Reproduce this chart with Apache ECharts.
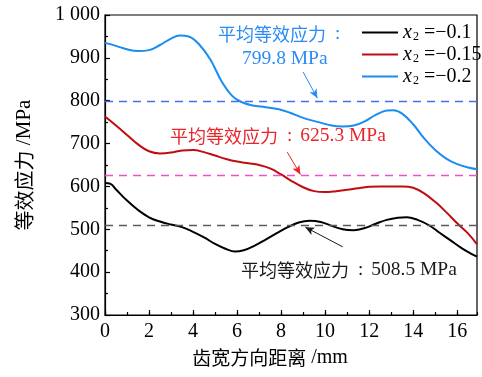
<!DOCTYPE html>
<html>
<head>
<meta charset="utf-8">
<script src="https://cdn.jsdelivr.net/npm/echarts@6/dist/echarts.min.js"></script>
<style>
  html, body { margin: 0; padding: 0; background: #fff; }
  #chart { width: 482px; height: 377px; }
</style>
</head>
<body>
<div id="chart"></div>
<script>
// Equivalent stress along the tooth width for three x2 values
const seriesNames = ['−0.1', '−0.15', '−0.2'];
const xTicks = [0, 2, 4, 6, 8, 10, 12, 14, 16];
const yTicks = [300, 400, 500, 600, 700, 800, 900, 1000];

const stressX01 = [
  [0, 608], [0.25, 606], [0.5, 593], [1.0, 567], [1.5, 545], [2.0, 528], [2.5, 518], [3.0, 511],
  [3.5, 505], [4.0, 494], [4.5, 481], [5.0, 466], [5.5, 454], [5.9, 448], [6.3, 451],
  [6.8, 462], [7.3, 476], [7.8, 491], [8.3, 505], [8.8, 516], [9.3, 520], [9.8, 517],
  [10.3, 508], [10.8, 500], [11.3, 498], [11.8, 503], [12.3, 513], [12.8, 522],
  [13.3, 527], [13.7, 528], [14.2, 522], [14.7, 510], [15.2, 492], [15.7, 474],
  [16.2, 456], [16.6, 444], [16.9, 436]
];
const stressX015 = [
  [0, 763], [0.5, 742], [1.0, 720], [1.5, 698], [2.0, 682], [2.5, 677], [3.0, 679],
  [3.5, 684], [4.0, 685], [4.5, 680], [5.0, 672], [5.5, 664], [6.0, 658], [6.5, 654],
  [7.0, 650], [7.5, 642], [8.0, 628], [8.5, 612], [9.0, 598], [9.5, 589], [10.0, 587],
  [10.5, 589], [11.0, 592], [11.5, 596], [12.0, 599], [12.5, 600], [13.0, 600],
  [13.5, 600], [14.0, 597], [14.5, 584], [15.0, 564], [15.5, 540], [16.0, 514],
  [16.5, 490], [16.9, 465]
];
const stressX02 = [
  [0, 935], [0.5, 928], [1.0, 920], [1.5, 916], [2.0, 918], [2.5, 930], [3.0, 945],
  [3.4, 952], [3.8, 950], [4.3, 930], [4.8, 895], [5.3, 845], [5.8, 810], [6.2, 797],
  [6.7, 789], [7.3, 785], [7.9, 780], [8.4, 772], [9.0, 760], [9.7, 750], [10.3, 742],
  [10.8, 740], [11.3, 742], [11.8, 752], [12.3, 767], [12.8, 777], [13.1, 778],
  [13.5, 770], [14.0, 745], [14.5, 712], [15.0, 685], [15.5, 665], [16.0, 652],
  [16.5, 644], [16.9, 640]
];

// Average equivalent stress for each case (MPa)
const averages = [508.5, 625.3, 799.8];

const serif = '"Liberation Serif", "Noto Sans CJK SC", serif';
const cjk = '"Noto Sans CJK SC", sans-serif';
const lineColors = ['#000000', '#c00d12', '#1a8df0'];
const avgColors = ['#5a5a5a', '#f050c8', '#4c6cf0'];
const noteColors = ['#1a1a1a', '#e8262a', '#2a8cf6'];
const noteHead = '平均等效应力';

// Arrow segments pointing from each note to its average line, in data units
const arrows = [
  [[10.8, 459], [9.1, 505]],
  [[8.28, 680], [8.88, 628]],
  [[9.0, 867], [9.65, 806]]
];

const chart = echarts.init(document.getElementById('chart'), null, { renderer: 'canvas' });

function avgMarkLine(i) {
  return {
    silent: true,
    animation: false,
    symbol: ['none', 'none'],
    label: { show: false },
    emphasis: { disabled: true },
    data: [
      { yAxis: averages[i],
        lineStyle: { type: [8, 6], color: avgColors[i], width: 1.3 } },
      [
        { coord: arrows[i][0], symbol: 'none' },
        { coord: arrows[i][1], symbol: 'arrow', symbolSize: [6, 9],
          lineStyle: { type: 'solid', color: noteColors[i], width: 1 },
          itemStyle: { color: noteColors[i] } }
      ]
    ]
  };
}

const datasets = [stressX01, stressX015, stressX02];
const series = datasets.map((d, i) => ({
  name: seriesNames[i],
  type: 'line',
  data: d,
  smooth: 0.4,
  symbol: 'none',
  lineStyle: { color: lineColors[i], width: 2 },
  itemStyle: { color: lineColors[i] },
  z: 3,
  markLine: avgMarkLine(i)
}));

// Rich-text note: CJK heading, spaced colon, value in MPa
function noteRich(color) {
  return {
    c: { fontFamily: cjk, fontSize: 18, fill: color, color: color },
    p: { fontFamily: serif, fontSize: 19, fill: color, color: color, padding: [0, 8, 0, 9] },
    n: { fontFamily: serif, fontSize: 19.5, fill: color, color: color }
  };
}

const option = {
  animation: false,
  backgroundColor: '#fff',
  grid: {
    left: 105, right: 5, top: 15, bottom: 62,
    show: true, borderColor: '#000', borderWidth: 1.2
  },
  legend: {
    orient: 'vertical',
    left: 357, top: 17,
    icon: 'rect',
    itemWidth: 36, itemHeight: 2.2, itemGap: 1,
    data: seriesNames,
    formatter: (name) => '{i|x}{s|2}{t| =' + name + '}',
    textStyle: {
      color: '#000',
      rich: {
        i: { fontFamily: serif, fontStyle: 'italic', fontSize: 20, color: '#000', lineHeight: 20 },
        s: { fontFamily: serif, fontSize: 12, color: '#000', padding: [9, 0, 0, 1], lineHeight: 20 },
        t: { fontFamily: serif, fontSize: 20, color: '#000', lineHeight: 20 }
      }
    }
  },
  xAxis: [
    {
      type: 'value', min: 0, max: 16.9, interval: 2,
      name: '{c|齿宽方向距离}{t| /mm}',
      nameLocation: 'middle', nameGap: 33,
      nameTextStyle: {
        color: '#000', padding: [0, 42, 0, 0],
        rich: {
          c: { fontFamily: cjk, fontSize: 19, color: '#000' },
          t: { fontFamily: serif, fontSize: 20, color: '#000' }
        }
      },
      axisLine: { show: true, lineStyle: { color: '#000', width: 1.2 } },
      axisTick: { show: true, inside: true, length: 5, lineStyle: { color: '#000', width: 1.2 } },
      axisLabel: {
        fontFamily: serif, fontSize: 20, color: '#000', margin: 7,
        showMaxLabel: false,
        formatter: (v) => (xTicks.indexOf(v) >= 0 ? String(v) : '')
      },
      splitLine: { show: false }
    },
    {
      // minor ticks at every millimetre
      type: 'value', min: 0, max: 16.9, interval: 1, position: 'bottom',
      axisLine: { show: false },
      axisTick: { show: true, inside: true, length: 3, lineStyle: { color: '#000', width: 1.2 } },
      axisLabel: { show: false },
      splitLine: { show: false }
    }
  ],
  yAxis: {
    type: 'value', min: 300, max: 1000, interval: 100,
    name: '{c|等效应力}{t| /MPa}',
    nameLocation: 'middle', nameGap: 70, nameRotate: 90,
    nameTextStyle: {
      color: '#000',
      rich: {
        c: { fontFamily: cjk, fontSize: 20, color: '#000' },
        t: { fontFamily: serif, fontSize: 21, color: '#000' }
      }
    },
    axisLine: { show: true, lineStyle: { color: '#000', width: 1.2 } },
    axisTick: { show: true, inside: true, length: 5, lineStyle: { color: '#000', width: 1.2 } },
    minorTick: { show: true, splitNumber: 2, length: 3, lineStyle: { color: '#000', width: 1.2 } },
    axisLabel: {
      fontFamily: serif, fontSize: 20, color: '#000', margin: 5,
      formatter: (v) => (yTicks.indexOf(v) >= 0 ? (v >= 1000 ? '1 000' : String(v)) : '')
    },
    splitLine: { show: false }
  },
  graphic: [
    { type: 'text', left: 218, top: 25, z: 10,
      style: { text: '{c|' + noteHead + '}{p|:}', rich: noteRich(noteColors[2]) } },
    { type: 'text', left: 242, top: 49, z: 10,
      style: { text: '{n|' + averages[2].toFixed(1) + ' MPa}', rich: noteRich(noteColors[2]) } },
    { type: 'text', left: 170, top: 126, z: 10,
      style: { text: '{c|' + noteHead + '}{p|:}{n|' + averages[1].toFixed(1) + ' MPa}', rich: noteRich(noteColors[1]) } },
    { type: 'text', left: 241, top: 260, z: 10,
      style: { text: '{c|' + noteHead + '}{p|:}{n|' + averages[0].toFixed(1) + ' MPa}', rich: noteRich(noteColors[0]) } }
  ],
  series: series
};

chart.setOption(option);
</script>
</body>
</html>
